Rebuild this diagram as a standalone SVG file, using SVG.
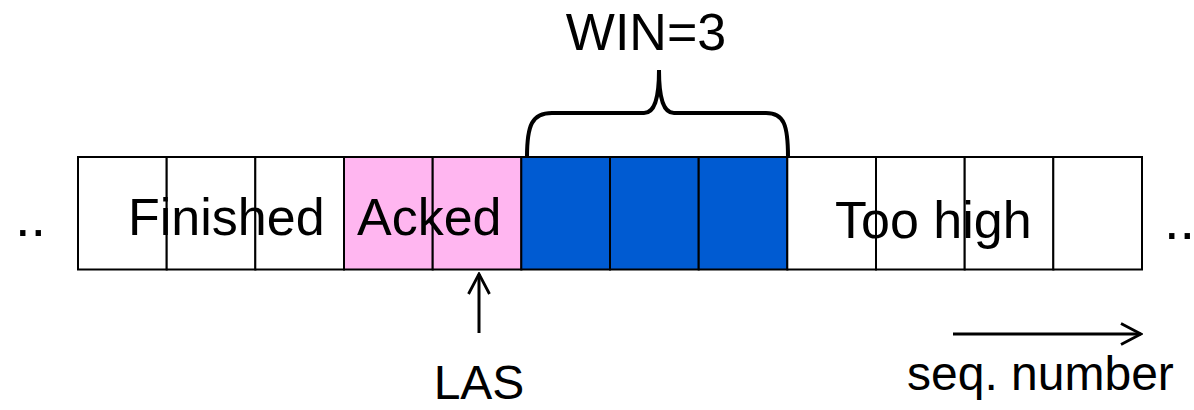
<svg xmlns="http://www.w3.org/2000/svg" width="1194" height="410" viewBox="0 0 1194 410">
<style>
.cell{stroke:#000;stroke-width:2}
.w{fill:#fff}.p{fill:#FFB6F0}.b{fill:#005BD2}
text{font-family:"Liberation Sans",Arial,sans-serif;fill:#000}
.ln{stroke:#000;stroke-width:3;fill:none}
.brace{stroke:#000;stroke-width:4;fill:none}
</style>
<defs>
<marker id="open" viewBox="0 0 24 24" refX="22" refY="12" markerWidth="24" markerHeight="24" markerUnits="userSpaceOnUse" orient="auto">
<path d="M2,1.5 L22,12 L2,22.5" fill="none" stroke="#000" stroke-width="2.8"/>
</marker>
</defs>
<g id="cells">
<rect class="cell w" x="78" y="157" width="88.7" height="112.5"/>
<rect class="cell w" x="166.7" y="157" width="88.7" height="112.5"/>
<rect class="cell w" x="255.3" y="157" width="88.7" height="112.5"/>
<rect class="cell p" x="344" y="157" width="88.7" height="112.5"/>
<rect class="cell p" x="432.7" y="157" width="88.7" height="112.5"/>
<rect class="cell b" x="521.3" y="157" width="88.7" height="112.5"/>
<rect class="cell b" x="610" y="157" width="88.7" height="112.5"/>
<rect class="cell b" x="698.7" y="157" width="88.7" height="112.5"/>
<rect class="cell w" x="787.3" y="157" width="88.7" height="112.5"/>
<rect class="cell w" x="876" y="157" width="88.7" height="112.5"/>
<rect class="cell w" x="964.7" y="157" width="88.7" height="112.5"/>
<rect class="cell w" x="1053.3" y="157" width="88.7" height="112.5"/>
</g>
<g id="labels">
<text x="15" y="236" font-size="56">..</text>
<text x="128" y="235" font-size="52">Finished</text>
<text x="357" y="235" font-size="52">Acked</text>
<text x="835" y="238" font-size="52">Too high</text>
<text x="1164" y="239" font-size="56">..</text>
</g>
<g id="window">
<path class="brace" d="M527,157 C527,125 532,113 552,113 L644,113 C654,113 659,100 659,70 C659,100 664,113 674,113 L766,113 C784,113 788,125 788,157"/>
<text x="646" y="50" font-size="52" text-anchor="middle">WIN=3</text>
</g>
<g id="connectors">
<line class="ln" x1="479" y1="333" x2="479" y2="274" marker-end="url(#open)"/>
<line class="ln" x1="953" y1="334" x2="1141" y2="334" marker-end="url(#open)"/>
</g>
<g id="las">
<text x="479" y="399" font-size="48" text-anchor="middle">LAS</text>
</g>
<g id="seq">
<text x="907" y="390" font-size="48">seq. number</text>
</g>
</svg>
